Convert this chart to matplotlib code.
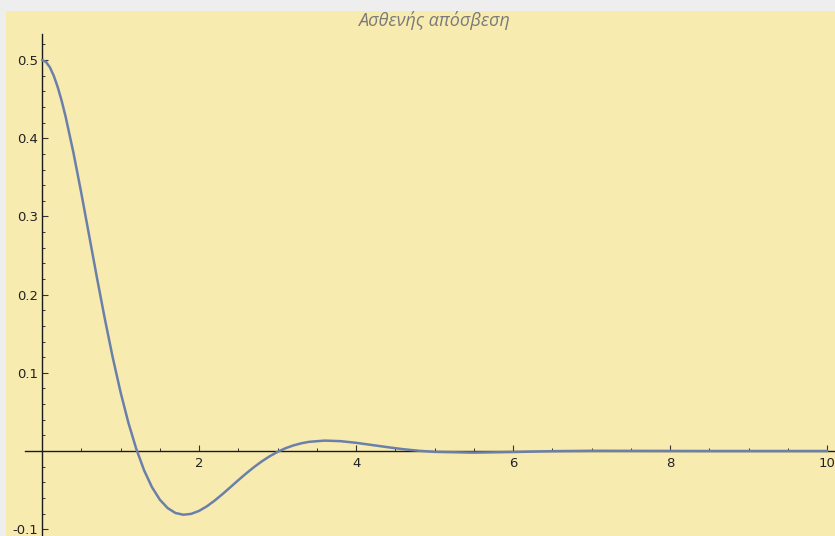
import matplotlib
matplotlib.use("Agg")
import matplotlib.pyplot as plt
from matplotlib.ticker import FixedLocator

# displacement of the weakly damped oscillator, sampled along t
t = [0.0, 0.05, 0.1, 0.15, 0.2, 0.25, 0.3, 0.4, 0.5, 0.6, 0.7, 0.8, 0.9,
     1.0, 1.1, 1.2, 1.3, 1.4, 1.5, 1.6, 1.7, 1.8, 1.9,
     2.0, 2.1, 2.2, 2.3, 2.4, 2.5, 2.6, 2.7, 2.8, 2.9,
     3.0, 3.1, 3.2, 3.3, 3.4, 3.6, 3.8,
     4.0, 4.2, 4.4, 4.6, 4.8, 5.0, 5.5, 6.0, 6.5, 7.0,
     7.5, 8.0, 8.5, 9.0, 9.5, 10.0]
x = [0.5, 0.4976, 0.4907, 0.4797, 0.4653, 0.4478, 0.4277, 0.3815, 0.3299, 0.2756, 0.2213, 0.1689, 0.1198,
     0.0753, 0.0361, 0.0028, -0.0247, -0.0462, -0.0622, -0.0730, -0.0793, -0.0815, -0.0804,
     -0.0766, -0.0707, -0.0633, -0.0550, -0.0462, -0.0373, -0.0287, -0.0206, -0.0132, -0.0067,
     -0.0011, 0.0035, 0.0071, 0.0098, 0.0117, 0.0133, 0.0126,
     0.0105, 0.0077, 0.0049, 0.0023, 0.0003, -0.0011, -0.0021, -0.0013, -0.0002, 0.0003,
     0.0002, 0.0001, 0.0, 0.0, 0.0, 0.0]

title = "Ασθενής απόσβεση"
xticks = [2, 4, 6, 8, 10]
yticks = [-0.1, 0.1, 0.2, 0.3, 0.4, 0.5]

fig = plt.figure(figsize=(8.35, 5.36), dpi=100, facecolor="#eeeeee")
ax = fig.add_axes([6 / 835, 0, 829 / 835, 525 / 536])
ax.set_facecolor("#f8ebb0")

ax.plot(t, x, color="#6a80ab", lw=1.8, solid_capstyle="round", zorder=3)

ax.set_xlim(-0.459, 10.1)
ax.set_ylim(-0.1087, 0.5627)

for s in ["top", "right"]:
    ax.spines[s].set_visible(False)
ax.spines["left"].set_position(("data", 0))
ax.spines["bottom"].set_position(("data", 0))
ax.spines["left"].set_bounds(-0.12, 0.533)
ax.spines["bottom"].set_bounds(-0.22, 10.2)
for s in ["left", "bottom"]:
    ax.spines[s].set_color("#1a1a1a")
    ax.spines[s].set_linewidth(1.0)

# minor ticks only where the axis lines are drawn
xminor = [k * 0.5 for k in range(1, 21) if k % 4]
yminor = [k * 0.02 for k in range(-5, 27) if k % 5]

ax.xaxis.set_major_locator(FixedLocator(xticks))
ax.xaxis.set_minor_locator(FixedLocator(xminor))
ax.yaxis.set_major_locator(FixedLocator(yticks))
ax.yaxis.set_minor_locator(FixedLocator(yminor))
ax.set_xticklabels([str(v) for v in xticks])
ax.set_yticklabels([f"{v:g}" for v in yticks])

ax.tick_params(which="major", direction="in", length=4.5, width=0.8,
               color="#333333", labelsize=9.5, labelcolor="#222222", pad=4)
ax.tick_params(which="minor", direction="in", length=2.5, width=0.7,
               color="#333333")
ax.tick_params(axis="y", which="both", pad=3)

fig.text(434 / 835, 1 - 21 / 536, title, ha="center", va="center",
         fontsize=13, style="italic", color="#7a7a7a", family="Open Sans")

fig.savefig("out.png", dpi=100, facecolor=fig.get_facecolor())
